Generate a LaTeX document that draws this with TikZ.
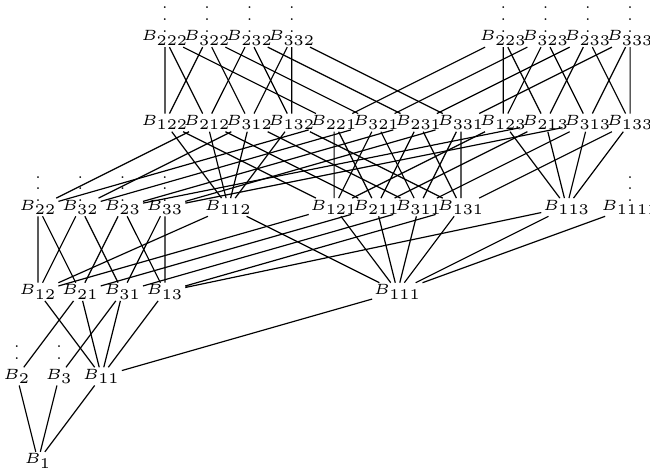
\documentclass[tikz,border=0pt]{standalone}
\usepackage{tikz}

\begin{document}
\begin{tikzpicture}[x=0.5cm,y=1cm,
	bn/.style={font=\tiny,inner sep=0.4pt},
	cont/.style={font=\tiny,inner sep=0pt}]
	\useasboundingbox (-0.9,-0.154) rectangle (14.47,5.45);
	% rank 0 and 1
	\node[bn] (b1) at (0,0) {$B_{1}$};
	\node[bn] (b2) at (-0.5,1) {$B_{2}$};
	\node[bn] (b3) at (0.5,1) {$B_{3}$};
	\node[bn] (b11) at (1.5,1) {$B_{11}$};
	% rank 2
	\node[bn] (b12) at (0,2) {$B_{12}$};
	\node[bn] (b21) at (1,2) {$B_{21}$};
	\node[bn] (b31) at (2,2) {$B_{31}$};
	\node[bn] (b13) at (3,2) {$B_{13}$};
	\node[bn] (b111) at (8.5,2) {$B_{111}$};
	% rank 3
	\node[bn] (b22) at (0,3) {$B_{22}$};
	\node[bn] (b32) at (1,3) {$B_{32}$};
	\node[bn] (b23) at (2,3) {$B_{23}$};
	\node[bn] (b33) at (3,3) {$B_{33}$};
	\node[bn] (b112) at (4.5,3) {$B_{112}$};
	\node[bn] (b121) at (7,3) {$B_{121}$};
	\node[bn] (b211) at (8,3) {$B_{211}$};
	\node[bn] (b311) at (9,3) {$B_{311}$};
	\node[bn] (b131) at (10,3) {$B_{131}$};
	\node[bn] (b113) at (12.5,3) {$B_{113}$};
	\node[bn] (b1111) at (14,3) {$B_{1111}$};
	% rank 4
	\node[bn] (b122) at (3,4) {$B_{122}$};
	\node[bn] (b212) at (4,4) {$B_{212}$};
	\node[bn] (b312) at (5,4) {$B_{312}$};
	\node[bn] (b132) at (6,4) {$B_{132}$};
	\node[bn] (b221) at (7,4) {$B_{221}$};
	\node[bn] (b321) at (8,4) {$B_{321}$};
	\node[bn] (b231) at (9,4) {$B_{231}$};
	\node[bn] (b331) at (10,4) {$B_{331}$};
	\node[bn] (b123) at (11,4) {$B_{123}$};
	\node[bn] (b213) at (12,4) {$B_{213}$};
	\node[bn] (b313) at (13,4) {$B_{313}$};
	\node[bn] (b133) at (14,4) {$B_{133}$};
	% rank 5
	\node[bn] (b222) at (3,5) {$B_{222}$};
	\node[bn] (b322) at (4,5) {$B_{322}$};
	\node[bn] (b232) at (5,5) {$B_{232}$};
	\node[bn] (b332) at (6,5) {$B_{332}$};
	\node[bn] (b223) at (11,5) {$B_{223}$};
	\node[bn] (b323) at (12,5) {$B_{323}$};
	\node[bn] (b233) at (13,5) {$B_{233}$};
	\node[bn] (b333) at (14,5) {$B_{333}$};
	% dots
	\node[cont] (v2) at (-0.5,1.32) {$\vdots$};
	\node[cont] (v3) at (0.5,1.32) {$\vdots$};
	\node[cont] (v22) at (0,3.32) {$\vdots$};
	\node[cont] (v32) at (1,3.32) {$\vdots$};
	\node[cont] (v23) at (2,3.32) {$\vdots$};
	\node[cont] (v33) at (3,3.32) {$\vdots$};
	\node[cont] (v1111) at (14,3.32) {$\vdots$};
	\node[cont] (v222) at (3,5.32) {$\vdots$};
	\node[cont] (v322) at (4,5.32) {$\vdots$};
	\node[cont] (v232) at (5,5.32) {$\vdots$};
	\node[cont] (v332) at (6,5.32) {$\vdots$};
	\node[cont] (v223) at (11,5.32) {$\vdots$};
	\node[cont] (v323) at (12,5.32) {$\vdots$};
	\node[cont] (v233) at (13,5.32) {$\vdots$};
	\node[cont] (v333) at (14,5.32) {$\vdots$};
	% edges 0-1-2
	\draw (b1) -- (b2) (b1) -- (b3) (b1) -- (b11);
	\draw (b2) -- (b21) (b3) -- (b31);
	\draw (b11) -- (b12) (b11) -- (b21) (b11) -- (b31) (b11) -- (b13) (b11) -- (b111);
	% edges 2-3
	\draw (b12) -- (b22) (b12) -- (b32) (b12) -- (b112) (b12) -- (b121);
	\draw (b21) -- (b22) (b21) -- (b23) (b21) -- (b211);
	\draw (b31) -- (b32) (b31) -- (b33) (b31) -- (b311);
	\draw (b13) -- (b23) (b13) -- (b33) (b13) -- (b131) (b13) -- (b113);
	\draw (b111) -- (b112) (b111) -- (b121) (b111) -- (b211) (b111) -- (b311)
		(b111) -- (b131) (b111) -- (b113) (b111) -- (b1111);
	% edges 3-4
	\draw (b122) -- (b112) (b122) -- (b121);
	\draw (b212) -- (b112) (b212) -- (b211) (b212) -- (b22);
	\draw (b312) -- (b112) (b312) -- (b311) (b312) -- (b32);
	\draw (b132) -- (b112) (b132) -- (b131);
	\draw (b221) -- (b121) (b221) -- (b211) (b221) -- (b22);
	\draw (b321) -- (b121) (b321) -- (b311) (b321) -- (b32);
	\draw (b231) -- (b131) (b231) -- (b211) (b231) -- (b23);
	\draw (b331) -- (b131) (b331) -- (b311) (b331) -- (b33);
	\draw (b123) -- (b113) (b123) -- (b121);
	\draw (b213) -- (b113) (b213) -- (b211) (b213) -- (b23);
	\draw (b313) -- (b113) (b313) -- (b311) (b313) -- (b33);
	\draw (b133) -- (b113) (b133) -- (b131);
	% edges 4-5
	\draw (b222) -- (b122) (b222) -- (b212) (b222) -- (b221);
	\draw (b322) -- (b122) (b322) -- (b312) (b322) -- (b321);
	\draw (b232) -- (b132) (b232) -- (b212) (b232) -- (b231);
	\draw (b332) -- (b132) (b332) -- (b312) (b332) -- (b331);
	\draw (b223) -- (b123) (b223) -- (b213) (b223) -- (b221);
	\draw (b323) -- (b123) (b323) -- (b313) (b323) -- (b321);
	\draw (b233) -- (b133) (b233) -- (b213) (b233) -- (b231);
	\draw (b333) -- (b133) (b333) -- (b313) (b333) -- (b331);
\end{tikzpicture}
\end{document}
